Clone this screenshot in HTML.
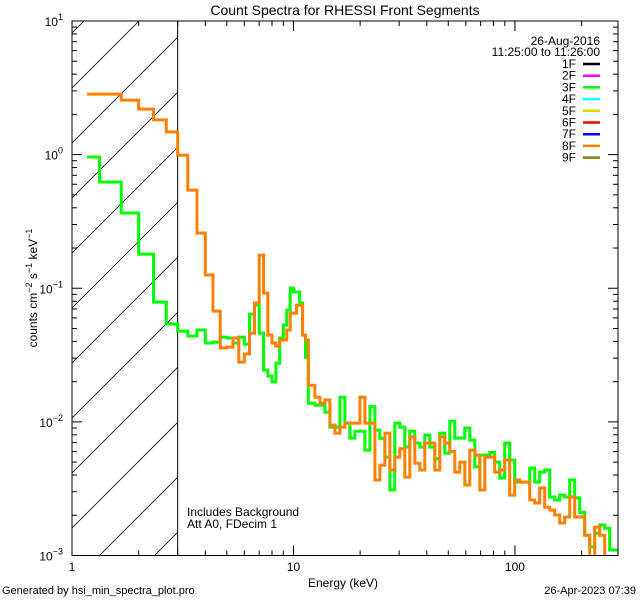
<!DOCTYPE html>
<html><head><meta charset="utf-8"><style>
html,body{margin:0;padding:0;background:#fff;width:640px;height:600px;overflow:hidden;}
svg{display:block;font-family:"Liberation Sans",sans-serif;}
</style></head><body>
<svg id="chart" width="640" height="600" viewBox="0 0 640 600">
<defs><clipPath id="clip"><rect x="72" y="21" width="546" height="535"/></clipPath></defs>
<rect x="0" y="0" width="640" height="600" fill="#fff"/>
<g id="hatch" clip-path="url(#clip)"></g>
<g id="series" clip-path="url(#clip)"></g>
<g id="axes"></g>
<text x="345" y="15" text-anchor="middle" font-size="14">Count Spectra for RHESSI Front Segments</text>
<text x="343" y="587" text-anchor="middle" font-size="12">Energy (keV)</text>
<text transform="translate(37,288) rotate(-90)" text-anchor="middle" font-size="12">counts cm<tspan dy="-5" font-size="9">−2</tspan><tspan dy="5"> s</tspan><tspan dy="-5" font-size="9">−1</tspan><tspan dy="5"> keV</tspan><tspan dy="-5" font-size="9">−1</tspan></text>
<text x="2" y="594" font-size="11">Generated by hsi_min_spectra_plot.pro</text>
<text x="636" y="594" text-anchor="end" font-size="11">26-Apr-2023 07:39</text>
<text x="187" y="516" font-size="12">Includes Background</text>
<text x="187" y="528" font-size="12">Att A0, FDecim 1</text>
<g id="legend">
<text x="600" y="45" text-anchor="end" font-size="12">26-Aug-2016</text>
<text x="600" y="56" text-anchor="end" font-size="12">11:25:00 to 11:26:00</text>
</g>
</svg>
<script>
// Shared bin edges (keV)
var binEdges = [1.17,1.333,1.667,2,2.333,2.667,3,3.333,3.667,4,4.333,4.667,5,5.333,5.667,6,6.333,6.667,7,7.333,7.667,8,8.333,8.667,9,9.333,9.667,10,10.333,10.667,11,11.333,11.667,
12.5,13.17,13.87,14.61,15.39,16.21,17.07,17.98,18.94,19.95,21.01,22.13,23.31,24.55,25.86,27.24,28.69,30.22,31.83,33.53,35.31,37.2,39.18,41.27,43.47,45.79,48.23,50.8,53.51,56.36,59.36,62.53,65.86,69.37,73.07,76.97,81.07,85.39,89.94,94.74,99.79,105.1,110.7,116.6,122.8,129.4,136.3,143.5,151.2,159.3,167.8,176.7,186.1,196.1,206.5,217.5,229.1,241.3,254.2,267.8,282,292];
var seg8F = [2.84,2.84,2.56,2.19,1.82,1.48,0.99,0.543,0.259,0.1256,0.0675,0.0357,0.0363,0.0424,0.028,0.0322,0.0462,0.0775,0.177,0.092,0.0446,0.0389,0.0369,0.041,0.041,0.0487,0.0652,0.0652,0.0748,0.0748,0.0446,0.041,0.0188,
0.0153,0.01382,0.0146,0.00946,0.00824,0.00914,0.00979,0.00979,0.00979,0.0153,0.00979,0.00979,0.00367,0.00475,0.00824,0.00436,0.00545,0.0063,0.00386,0.0077,0.0049,0.00436,0.00694,0.00694,0.00436,0.0077,0.00694,0.006,0.00421,0.005,0.00337,0.00615,0.00564,0.00309,0.00545,0.00545,0.00421,0.00436,0.00518,0.00283,0.00367,0.00354,0.00354,0.0026,0.00247,0.0032,0.0023,0.00219,0.00201,0.00175,0.00194,0.00274,0.00194,0.00194,0.00142,0.0009,0.00163,0.00142,0.0009,0.0009,0.0009];
var seg3F = [0.96,0.624,0.366,0.18,0.0788,0.054,0.0478,0.0439,0.0487,0.0389,0.0396,0.0431,0.0424,0.0389,0.0431,0.0382,0.0641,0.0748,0.0462,0.0244,0.022,0.0199,0.0275,0.0424,0.053,0.0687,0.1003,0.0937,0.0937,0.0775,0.0446,0.0305,0.0138,
0.01335,0.01335,0.0118,0.00914,0.00914,0.0153,0.00979,0.00756,0.0085,0.0085,0.00615,0.013,0.00868,0.0075,0.00545,0.00309,0.00979,0.00914,0.00648,0.0085,0.00694,0.00648,0.00796,0.00648,0.0053,0.00824,0.00584,0.0101,0.00756,0.00756,0.009,0.00731,0.0046,0.00564,0.00564,0.0059,0.005,0.0038,0.00694,0.00518,0.00354,0.00354,0.00354,0.00451,0.00354,0.00421,0.00436,0.00274,0.0026,0.00283,0.00274,0.00367,0.0027,0.0021,0.00142,0.00116,0.00147,0.00169,0.0016,0.0011,0.0011];
var legendLabels = ["1F","2F","3F","4F","5F","6F","7F","8F","9F"];
var legendColors = ["#000000","#ff00ff","#00ff00","#00ffff","#d8d800","#ff0000","#0000ff","#ff8000","#808000"];
var xTickLabels = ["1","10","100"];
var yTickExps = ["1","0","−1","−2","−3"];

var NS="http://www.w3.org/2000/svg";
var X0=72,X1=618,Y0=21,Y1=555.5;
var XMIN=1,XMAX=292,YMIN=-3,YMAX=1;
function xs(e){return X0+(Math.log10(e)-Math.log10(XMIN))/(Math.log10(XMAX)-Math.log10(XMIN))*(X1-X0);}
function ys(v){return Y1-(Math.log10(v)-YMIN)/(YMAX-YMIN)*(Y1-Y0);}
function mk(tag,attrs,parent){var el=document.createElementNS(NS,tag);for(var k in attrs)el.setAttribute(k,attrs[k]);parent.appendChild(el);return el;}

// hatch (45° lines clipped to plot box, left of 3 keV)
var hg=document.getElementById('hatch');
var XR=xs(3);
for(var k=-8;k<12;k++){
  var c=92.3+55*k+XR; // line: y = c - x
  var xa=X0, ya=c-xa, xb=XR, yb=c-xb;
  if(ya>Y1){xa=c-Y1;ya=Y1;}
  if(yb<Y0){xb=c-Y0;yb=Y0;}
  if(xa>=xb) continue;
  var ln=mk('line',{x1:xa,y1:ya,x2:xb,y2:yb,stroke:'#000','stroke-width':0.8},hg);
  
  
}
var vl=mk('line',{x1:XR,y1:Y0,x2:XR,y2:Y1,stroke:'#000','stroke-width':1},hg);



// series
function stepPath(vals){
  var d='';
  for(var i=0;i<vals.length;i++){
    var xa=xs(binEdges[i]),xb=xs(binEdges[i+1]),y=Math.min(ys(vals[i]),Y1+6);
    d+=(i===0?'M':'L')+xa.toFixed(1)+' '+y.toFixed(1)+'L'+xb.toFixed(1)+' '+y.toFixed(1);
  }
  return d;
}
var sg=document.getElementById('series');
var p3=mk('path',{d:stepPath(seg3F),fill:'none',stroke:'#00ff00','stroke-width':3,'stroke-linejoin':'miter'},sg);


var p8=mk('path',{d:stepPath(seg8F),fill:'none',stroke:'#ff8000','stroke-width':3,'stroke-linejoin':'miter'},sg);



// axes
var ag=document.getElementById('axes');
var box=mk('rect',{x:X0,y:Y0,width:X1-X0,height:Y1-Y0,fill:'none',stroke:'#000','stroke-width':1},ag);


for(var dec=0;dec<=2;dec++){
  for(var m=1;m<=9;m++){
    var e=m*Math.pow(10,dec); if(e>XMAX) break;
    var x=xs(e), L=(m===1)?10:5;
    var t1=mk('line',{x1:x,y1:Y1,x2:x,y2:Y1-L,stroke:'#000'},ag);
    
    
    var t2=mk('line',{x1:x,y1:Y0,x2:x,y2:Y0+L,stroke:'#000'},ag);
    
    
  }
  var lb=mk('text',{x:xs(Math.pow(10,dec)),y:571,'text-anchor':'middle','font-size':12},ag);
  lb.textContent=xTickLabels[dec];
  
  
}
for(var p=-3;p<=1;p++){
  for(var m=1;m<=9;m++){
    if(p===1&&m>1) break;
    var y=ys(m*Math.pow(10,p)), L=(m===1)?10:5;
    var a=mk('line',{x1:X0,y1:y,x2:X0+L,y2:y,stroke:'#000'},ag);
    
    
    var b=mk('line',{x1:X1,y1:y,x2:X1-L,y2:y,stroke:'#000'},ag);
    
    
  }
  var yl=mk('text',{x:63,y:ys(Math.pow(10,p))+5,'text-anchor':'end','font-size':12},ag);
  
  
  var t=document.createElementNS(NS,'tspan');t.textContent='10';yl.appendChild(t);
  var s=document.createElementNS(NS,'tspan');s.setAttribute('dy','-6');s.setAttribute('font-size','9');s.textContent=yTickExps[1-p];yl.appendChild(s);
}

// legend
var lg=document.getElementById('legend');
for(var i=0;i<legendLabels.length;i++){
  var yy=68+i*11.7;
  var tx=mk('text',{x:576,y:yy,'text-anchor':'end','font-size':12},lg);
  tx.textContent=legendLabels[i];
  
  
  var sw=mk('line',{x1:583,y1:yy-4,x2:600,y2:yy-4,stroke:legendColors[i],'stroke-width':2.5},lg);
  
  
}
</script>
</body></html>
